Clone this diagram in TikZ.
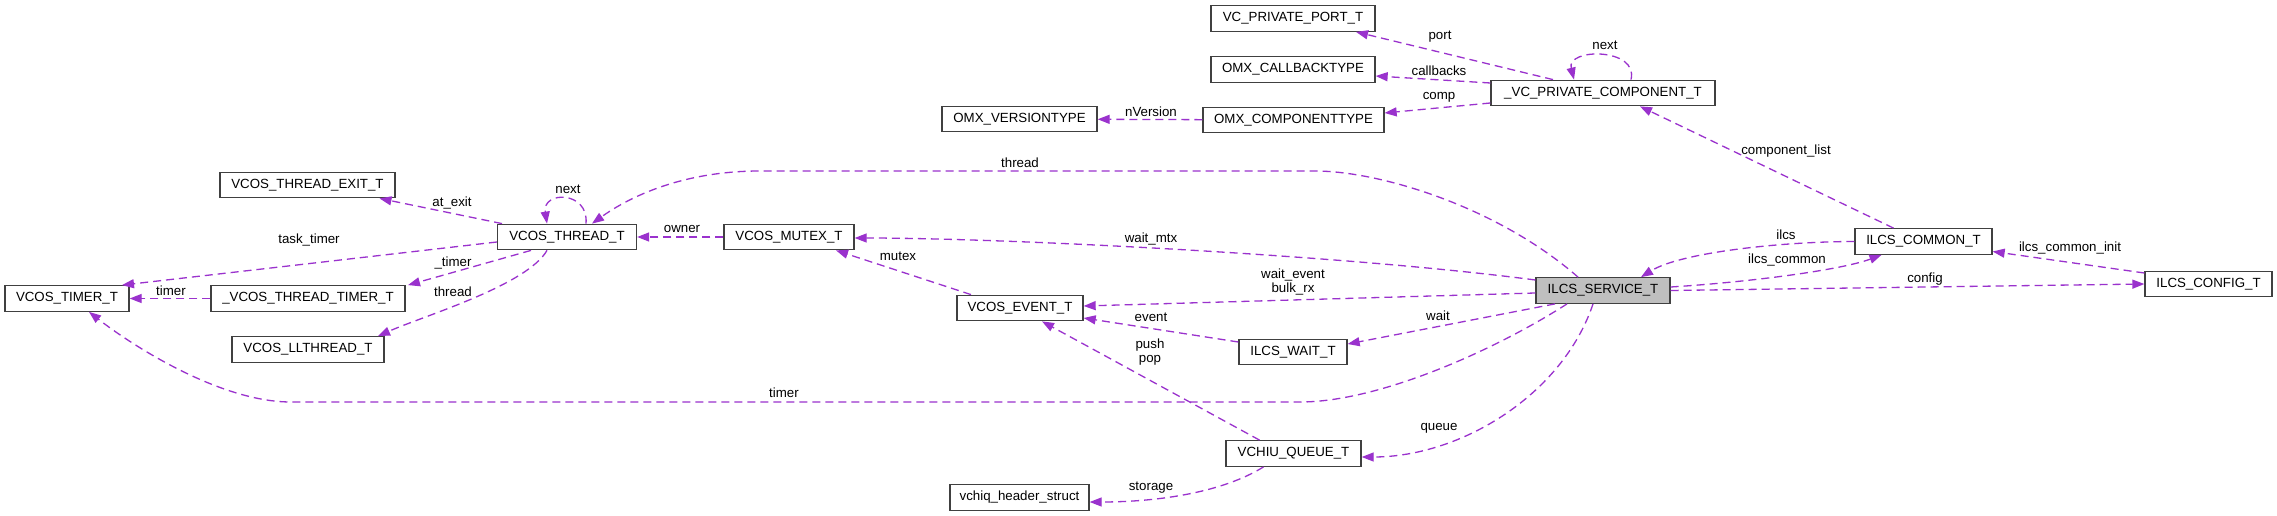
\documentclass[tikz,border=0pt]{standalone}
\usepackage{fontspec}
\setmainfont{Liberation Sans}
\usetikzlibrary{arrows.meta}
\definecolor{EdgePurple}{RGB}{154,50,205}
\definecolor{BoxLine}{RGB}{64,64,64}
\definecolor{ServiceGray}{RGB}{191,191,191}
\tikzset{
  cbox/.style={draw=BoxLine,fill=white,line width=1.3pt,
               minimum height=25.5pt,inner sep=0pt,
               font=\fontsize{13.3}{15}\selectfont,text centered},
  sbox/.style={cbox,fill=ServiceGray},
  arr/.style={-{Triangle[length=12pt,width=9pt]},EdgePurple,line width=1.3pt,
              dash pattern=on 8pt off 5pt},
  lbl/.style={font=\fontsize{13.3}{14.5}\selectfont,align=center,inner sep=0pt},
}

\begin{document}
\begin{tikzpicture}[x=1pt,y=-1pt]
  % pixel grid of the collaboration graph, y pointing down
  \fill[white] (0,0) rectangle (2277,516);
  \useasboundingbox (0,0) rectangle (2277,516);

  \node[sbox, minimum width=134pt] (ilcs_service) at (1603,290.5) {ILCS\_SERVICE\_T};

  \node[cbox, minimum width=175pt] (vcos_thread_exit) at (307.5,185) {VCOS\_THREAD\_EXIT\_T};
  \node[cbox, minimum width=139pt] (vcos_thread) at (567,237) {VCOS\_THREAD\_T};
  \node[cbox, minimum width=130pt] (vcos_mutex) at (789,237) {VCOS\_MUTEX\_T};
  \node[cbox, minimum width=124pt] (vcos_timer) at (67,298.5) {VCOS\_TIMER\_T};
  \node[cbox, minimum width=194pt] (vcos_thread_timer) at (308,298.5) {\_VCOS\_THREAD\_TIMER\_T};
  \node[cbox, minimum width=152pt] (vcos_llthread) at (308,349.5) {VCOS\_LLTHREAD\_T};
  \node[cbox, minimum width=126pt] (vcos_event) at (1020,308) {VCOS\_EVENT\_T};
  \node[cbox, minimum width=108pt] (ilcs_wait) at (1293,352) {ILCS\_WAIT\_T};
  \node[cbox, minimum width=135pt] (vchiu_queue) at (1293.5,453.5) {VCHIU\_QUEUE\_T};
  \node[cbox, minimum width=139pt] (vchiq_header) at (1019.5,497.5) {vchiq\_header\_struct};

  \node[cbox, minimum width=164pt] (vc_private_port) at (1293,18.5) {VC\_PRIVATE\_PORT\_T};
  \node[cbox, minimum width=164pt] (omx_callback) at (1293,69.5) {OMX\_CALLBACKTYPE};
  \node[cbox, minimum width=155pt] (omx_version) at (1019.5,119) {OMX\_VERSIONTYPE};
  \node[cbox, minimum width=181pt] (omx_component) at (1293.5,120) {OMX\_COMPONENTTYPE};
  \node[cbox, minimum width=224pt] (vc_private_component) at (1603,93) {\_VC\_PRIVATE\_COMPONENT\_T};
  \node[cbox, minimum width=137pt] (ilcs_common) at (1923.5,241.5) {ILCS\_COMMON\_T};
  \node[cbox, minimum width=127pt] (ilcs_config) at (2208.5,284) {ILCS\_CONFIG\_T};

  % VCOS_THREAD_T and its members
  \draw[arr] ([xshift=-65pt]vcos_thread.north) -- ([xshift=72pt]vcos_thread_exit.south);
  \draw[arr] ([xshift=19pt]vcos_thread.north) .. controls +(3,-33) and +(-5,-33) .. ([xshift=-20pt]vcos_thread.north);
  \draw[arr] ([yshift=-5pt]vcos_thread.west) -- ([xshift=55pt]vcos_timer.north);
  \draw[arr] ([xshift=-36pt]vcos_thread.south) -- ([xshift=100pt]vcos_thread_timer.north);
  \draw[arr] ([xshift=-20pt]vcos_thread.south) .. controls +(-20,35) and +(45,-20) .. ([xshift=70pt]vcos_llthread.north);
  \draw[arr] (vcos_thread_timer) -- (vcos_timer);
  \draw[arr] (vcos_mutex) -- (vcos_thread);
  \draw[arr] ([xshift=-49pt]vcos_event.north) -- ([xshift=47pt]vcos_mutex.south);

  % ILCS_SERVICE_T members
  \draw[arr] ([xshift=-36pt]ilcs_service.south) .. controls +(-70,45) and +(80,0) .. (1300,402)
             -- (291,402) .. controls +(-70,0) and +(45,35) .. ([xshift=22pt]vcos_timer.south);
  \draw[arr] ([xshift=-25pt]ilcs_service.north) .. controls +(-80,-70) and +(65,0) .. (1315,171)
             -- (760,171) .. controls +(-80,0) and +(35,-25) .. ([xshift=25pt]vcos_thread.north);
  \draw[arr] ([yshift=10.5pt]ilcs_service.west) .. controls +(-190,-25) and +(150,0) .. ([yshift=-1pt]vcos_mutex.east);
  \draw[arr] ([yshift=-2.5pt]ilcs_service.west) -- ([yshift=2pt]vcos_event.east);
  \draw[arr] ([yshift=10pt]ilcs_wait.west) -- ([yshift=-10pt]vcos_event.east);
  \draw[arr] ([xshift=-48pt]ilcs_service.south) -- ([yshift=8pt]ilcs_wait.east);
  \draw[arr] ([xshift=-34pt]vchiu_queue.north) -- ([xshift=22pt]vcos_event.south);
  \draw[arr] ([xshift=-10pt]ilcs_service.south) .. controls +(-30,90) and +(100,0) .. ([yshift=-3.5pt]vchiu_queue.east);
  \draw[arr] ([xshift=-30pt]vchiu_queue.south) .. controls +(-40,25) and +(70,0) .. ([yshift=-4.5pt]vchiq_header.east);
  \draw[arr] ([yshift=3.5pt]ilcs_service.east) .. controls +(80,-5) and +(-40,15) .. ([xshift=-42pt]ilcs_common.south);
  \draw[arr] (ilcs_common.west) .. controls +(-70,0) and +(40,-25) .. ([xshift=38pt]ilcs_service.north);
  \draw[arr] (ilcs_service.east) -- (ilcs_config.west);
  \draw[arr] ([yshift=11pt]ilcs_config.west) -- ([yshift=-10pt]ilcs_common.east);

  % component side
  \draw[arr] ([xshift=-30pt]ilcs_common.north) -- ([xshift=37pt]vc_private_component.south);
  \draw[arr] ([xshift=-50pt]vc_private_component.north) -- ([xshift=63pt]vc_private_port.south);
  \draw[arr] ([yshift=10pt]vc_private_component.west) -- ([yshift=-6.5pt]omx_callback.east);
  \draw[arr] ([yshift=-10pt]vc_private_component.west) -- ([yshift=7pt]omx_component.east);
  \draw[arr] (omx_component) -- (omx_version);
  \draw[arr] ([xshift=28pt]vc_private_component.north) .. controls +(8,-32) and +(-8,-32) .. ([xshift=-29pt]vc_private_component.north);

  % edge labels
  \node[lbl] (l_at_exit) at (452,203) {at\_exit};
  \node[lbl] (l_next_thread) at (568,189) {next};
  \node[lbl] (l_task_timer) at (309,240) {task\_timer};
  \node[lbl] (l_timer_thread) at (453,263) {\_timer};
  \node[lbl] (l_thread_ll) at (453,292) {thread};
  \node[lbl] (l_timer_short) at (171,291) {timer};
  \node[lbl] (l_timer_long) at (784,393) {timer};
  \node[lbl] (l_thread_long) at (1020,163) {thread};
  \node[lbl] (l_owner) at (682,229) {owner};
  \node[lbl] (l_wait_mtx) at (1151,239) {wait\_mtx};
  \node[lbl] (l_mutex) at (898,256) {mutex};
  \node[lbl] (l_wait_event) at (1293,282) {wait\_event\\bulk\_rx};
  \node[lbl] (l_event) at (1151,317) {event};
  \node[lbl] (l_wait) at (1438,316) {wait};
  \node[lbl] (l_push_pop) at (1150,352) {push\\pop};
  \node[lbl] (l_queue) at (1439,428) {queue};
  \node[lbl] (l_storage) at (1151,488) {storage};
  \node[lbl] (l_ilcs_common) at (1787,260) {ilcs\_common};
  \node[lbl] (l_ilcs) at (1786,235) {ilcs};
  \node[lbl] (l_config) at (1925,279) {config};
  \node[lbl] (l_common_init) at (2070,248) {ilcs\_common\_init};
  \node[lbl] (l_component_list) at (1786,151) {component\_list};
  \node[lbl] (l_port) at (1440,37) {port};
  \node[lbl] (l_callbacks) at (1439,71) {callbacks};
  \node[lbl] (l_comp) at (1439,97) {comp};
  \node[lbl] (l_nversion) at (1151,112) {nVersion};
  \node[lbl] (l_next_comp) at (1605,45) {next};
\end{tikzpicture}
\end{document}
